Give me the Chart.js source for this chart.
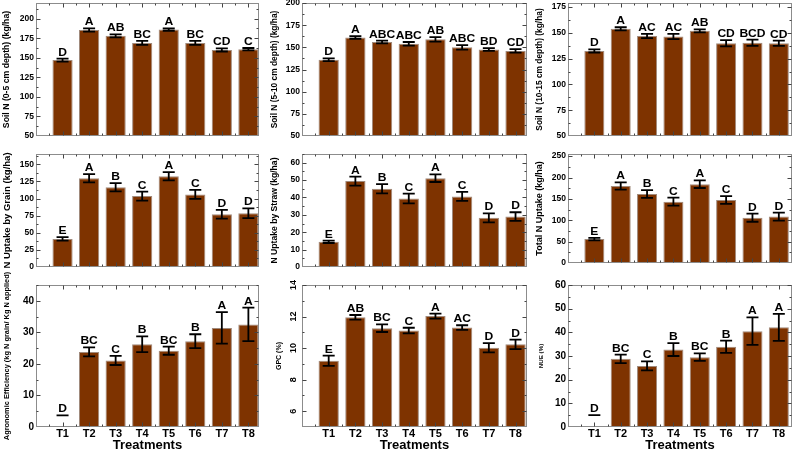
<!DOCTYPE html>
<html>
<head>
<meta charset="utf-8">
<script src="https://cdn.jsdelivr.net/npm/chart.js@4.4.1/dist/chart.umd.min.js"></script>
<style>
  html, body { margin: 0; padding: 0; background: #fff; overflow: hidden; }
  #wrap { position: relative; width: 793px; height: 449px; }
  #wrap canvas { position: absolute; left: 0; top: 0; }
</style>
</head>
<body>
<div id="wrap"></div>
<script>
const treatments = ['T1', 'T2', 'T3', 'T4', 'T5', 'T6', 'T7', 'T8'];

// soil N, three depths (kg/ha)
const soil05Mean = [147, 185.5, 178, 169, 186, 169, 160, 161];
const soil05Err = [2, 2, 2, 2.5, 1.5, 2.5, 2, 1.5];
const soil05Letters = ['D', 'A', 'AB', 'BC', 'A', 'BC', 'CD', 'C'];
const soil05Ticks = [50, 75, 100, 125, 150, 175, 200];

const soil510Mean = [136, 161, 156, 154, 159, 150, 147.5, 146];
const soil510Err = [1.5, 1.5, 1.5, 2, 2.5, 2.5, 1.5, 2];
const soil510Letters = ['D', 'A', 'ABC', 'ABC', 'AB', 'ABC', 'BD', 'CD'];
const soil510Ticks = [50, 75, 100, 125, 150, 175, 200];

const soil1015Mean = [132.5, 154, 147, 146.5, 152, 140, 140.5, 140];
const soil1015Err = [1.5, 1.5, 2, 2.5, 1.5, 3, 3, 2.5];
const soil1015Letters = ['D', 'A', 'AC', 'AC', 'AB', 'CD', 'BCD', 'CD'];
const soil1015Ticks = [50, 75, 100, 125, 150, 175];

// N uptake (kg/ha)
const grainMean = [41, 129.5, 116.5, 103.5, 132.5, 106, 77, 78.5];
const grainErr = [2.5, 6, 6, 6.5, 6, 6.5, 6.5, 7];
const grainLetters = ['E', 'A', 'B', 'C', 'A', 'C', 'D', 'D'];
const grainTicks = [0, 25, 50, 75, 100, 125, 150];

const strawMean = [14.5, 49.4, 45, 39.4, 51.1, 40.6, 28.3, 29];
const strawErr = [0.7, 2.6, 2.7, 2.8, 2.2, 2.6, 2.6, 2.5];
const strawLetters = ['E', 'A', 'B', 'C', 'A', 'C', 'D', 'D'];
const strawTicks = [0, 10, 20, 30, 40, 50, 60];

const totalMean = [56, 180, 161.5, 143.5, 184.5, 147.5, 106, 108.5];
const totalErr = [3, 8.5, 9, 9.5, 9, 9, 9.5, 9.5];
const totalLetters = ['E', 'A', 'B', 'C', 'A', 'C', 'D', 'D'];
const totalTicks = [0, 50, 100, 150, 200, 250];

// agronomic efficiency, GPC, NUE
const aeMean = [0, 23.8, 21.1, 26.2, 24.2, 27.2, 31.4, 32.5];
const aeErr = [0, 1.45, 1.45, 2.5, 1.3, 2.2, 5, 5.3];
const aeErrMid = [3.7, 23.8, 21.1, 26.2, 24.2, 27.2, 31.4, 32.5];
const aeLetters = ['D', 'BC', 'C', 'B', 'BC', 'B', 'A', 'A'];
const aeTicks = [0, 10, 20, 30, 40];

const gpcMean = [9.2, 11.95, 11.26, 11.11, 12.03, 11.3, 10.02, 10.24];
const gpcErr = [0.32, 0.15, 0.24, 0.18, 0.16, 0.15, 0.29, 0.3];
const gpcLetters = ['E', 'AB', 'BC', 'C', 'A', 'AC', 'D', 'D'];
const gpcTicks = [6, 8, 10, 12, 14];

const nueMean = [0, 28.8, 25.8, 32.7, 29.5, 33.9, 40.5, 42.1];
const nueErr = [0, 1.8, 1.9, 2.7, 1.6, 2.6, 5.8, 5.7];
const nueErrMid = [5, 28.8, 25.8, 32.7, 29.5, 33.9, 40.5, 42.1];
const nueLetters = ['D', 'BC', 'C', 'B', 'BC', 'B', 'A', 'A'];
const nueTicks = [0, 10, 20, 30, 40, 50, 60];

const barColor = '#7e3300';
const barEdge = '#a08a7c';

// page layout of the 3x3 grid
const cols = [
  { plotLeft: 36, plotRight: 259, xMax: 8.4 },
  { plotLeft: 302, plotRight: 527, xMax: 8.43 },
  { plotLeft: 568, plotRight: 792, xMax: 8.5 }
];
const rows = [
  { top: 3, bottom: 136 },
  { top: 154, bottom: 267 },
  { top: 285, bottom: 427 }
];

const panels = [
  { col: 0, row: 0, mean: soil05Mean, err: soil05Err, letters: soil05Letters, ticks: soil05Ticks, min: 50, max: 220,
    title: 'Soil N (0-5 cm depth) (kg/ha)', titleSize: 8.7, titleX: 7, tickSize: 8.5 },
  { col: 1, row: 0, mean: soil510Mean, err: soil510Err, letters: soil510Letters, ticks: soil510Ticks, min: 50, max: 200,
    title: 'Soil N (5-10 cm depth) (kg/ha)', titleSize: 8.4, titleX: 275, tickSize: 8.5 },
  { col: 2, row: 0, mean: soil1015Mean, err: soil1015Err, letters: soil1015Letters, ticks: soil1015Ticks, min: 50, max: 179,
    title: 'Soil N (10-15 cm depth) (kg/ha)', titleSize: 8.4, titleX: 540, tickSize: 8.5 },
  { col: 0, row: 1, mean: grainMean, err: grainErr, letters: grainLetters, ticks: grainTicks, min: 0, max: 165,
    title: 'N Uptake by Grain (kg/ha)', titleSize: 9.5, titleX: 7, tickSize: 8.5 },
  { col: 1, row: 1, mean: strawMean, err: strawErr, letters: strawLetters, ticks: strawTicks, min: 0, max: 65,
    title: 'N Uptake by Straw (kg/ha)', titleSize: 8.6, titleX: 275, tickSize: 8.5 },
  { col: 2, row: 1, mean: totalMean, err: totalErr, letters: totalLetters, ticks: totalTicks, min: 0, max: 255,
    title: 'Total N Uptake (kg/ha)', titleSize: 9, titleX: 540, tickSize: 8.5, plotBottom: 263 },
  { col: 0, row: 2, mean: aeMean, err: aeErr, errMid: aeErrMid, letters: aeLetters, ticks: aeTicks, min: 0, max: 45,
    title: 'Agronomic Efficiency (kg N grain/ Kg N applied)', titleSize: 7.4, titleX: 7, tickSize: 10 },
  { col: 1, row: 2, mean: gpcMean, err: gpcErr, letters: gpcLetters, ticks: gpcTicks, min: 5, max: 14,
    title: 'GPC (%)', titleSize: 7, titleX: 279, tickSize: 9, rotTicks: true },
  { col: 2, row: 2, mean: nueMean, err: nueErr, errMid: nueErrMid, letters: nueLetters, ticks: nueTicks, min: 0, max: 60,
    title: 'NUE (%)', titleSize: 6.2, titleX: 541, tickSize: 10 }
];

// frame, inward ticks, error bars and letters
const panelDecor = {
  id: 'panelDecor',
  afterDatasetsDraw(chart, args, opts) {
    const { ctx, chartArea: a, scales: { x, y } } = chart;
    ctx.save();

    // error bars
    ctx.strokeStyle = '#000';
    ctx.lineWidth = 1.8;
    ctx.fillStyle = '#000';
    ctx.font = 'bold 10.5px "Liberation Sans", Arial, sans-serif';
    ctx.textAlign = 'center';
    ctx.textBaseline = 'alphabetic';
    opts.mean.forEach((m, i) => {
      const mid = opts.errMid ? opts.errMid[i] : m;
      const px = x.getPixelForValue(i + 1);
      const yHi = y.getPixelForValue(mid + opts.err[i]);
      const yLo = y.getPixelForValue(mid - opts.err[i]);
      ctx.beginPath();
      ctx.moveTo(px, yHi); ctx.lineTo(px, yLo);
      ctx.moveTo(px - 6, yHi); ctx.lineTo(px + 6, yHi);
      ctx.moveTo(px - 6, yLo); ctx.lineTo(px + 6, yLo);
      ctx.stroke();
      // letters look slightly wide in the original figure
      ctx.save();
      ctx.translate(px, yHi - 3);
      ctx.scale(1.15, 1);
      ctx.fillText(opts.letters[i], 0, 0);
      ctx.restore();
    });

    // frame
    const L = Math.round(a.left) + 0.5, R = Math.round(a.right) - 0.5;
    const T = Math.round(a.top) + 0.5, B = Math.round(a.bottom) - 0.5;
    ctx.strokeStyle = '#8c8c8c';
    ctx.lineWidth = 1;
    ctx.strokeRect(L, T, R - L, B - T);

    // inward ticks
    ctx.strokeStyle = '#444';
    ctx.beginPath();
    for (let v = 0.5; v < x.max; v += 0.5) {
      const px = Math.round(x.getPixelForValue(v)) + 0.5;
      const len = Number.isInteger(v) ? 4 : 2;
      ctx.moveTo(px, B); ctx.lineTo(px, B - len);
      ctx.moveTo(px, T); ctx.lineTo(px, T + len);
    }
    const step = opts.ticks[1] - opts.ticks[0];
    let start = opts.ticks[0];
    while (start - step / 2 >= y.min) start -= step / 2;
    for (let v = start; v <= y.max + 1e-9; v += step / 2) {
      const py = Math.round(y.getPixelForValue(v)) + 0.5;
      if (py < T || py > B) continue;
      const major = opts.ticks.some(t => Math.abs(t - v) < 1e-6);
      const len = major ? 4 : 2;
      ctx.moveTo(L, py); ctx.lineTo(L + len, py);
      ctx.moveTo(R, py); ctx.lineTo(R - len, py);
    }
    ctx.stroke();

    // rotated tick labels (GPC panel)
    if (opts.rotTicks) {
      ctx.fillStyle = '#000';
      ctx.font = 'bold ' + opts.tickSize + 'px "Liberation Sans", Arial, sans-serif';
      ctx.textAlign = 'center';
      ctx.textBaseline = 'middle';
      opts.ticks.forEach(v => {
        ctx.save();
        ctx.translate(a.left - 8, y.getPixelForValue(v));
        ctx.rotate(-Math.PI / 2);
        ctx.fillText(String(v), 0, 0);
        ctx.restore();
      });
    }
    ctx.restore();
  }
};

Chart.defaults.font.family = '"Liberation Sans", Arial, sans-serif';
Chart.defaults.color = '#000';

const wrap = document.getElementById('wrap');

panels.forEach(p => {
  const col = cols[p.col];
  const row = rows[p.row];
  const plotBottom = p.plotBottom || row.bottom;
  const isBottom = p.row === 2;
  const xH = isBottom ? 22 : 0;
  const padLeft = p.titleX - p.titleSize * 1.2 / 2;
  const yW = col.plotLeft - padLeft;

  const canvas = document.createElement('canvas');
  canvas.width = 793;
  canvas.height = 449;
  wrap.appendChild(canvas);

  new Chart(canvas, {
    type: 'bar',
    data: {
      datasets: [{
        data: p.mean.map((v, i) => ({ x: i + 1, y: v })),
        backgroundColor: barColor,
        borderColor: barEdge,
        borderWidth: 1,
        borderSkipped: 'start',
        categoryPercentage: 1,
        barPercentage: 0.76
      }]
    },
    options: {
      responsive: false,
      animation: false,
      devicePixelRatio: 1,
      events: [],
      layout: {
        padding: { left: padLeft, top: row.top, right: 793 - col.plotRight, bottom: 449 - plotBottom - xH }
      },
      plugins: {
        legend: { display: false },
        tooltip: { enabled: false },
        panelDecor: {
          mean: p.mean, err: p.err, errMid: p.errMid, letters: p.letters,
          ticks: p.ticks, rotTicks: p.rotTicks, tickSize: p.tickSize
        }
      },
      scales: {
        x: {
          type: 'linear',
          min: 0,
          max: col.xMax,
          offset: false,
          grid: { display: false, drawTicks: false },
          border: { display: false },
          afterBuildTicks: s => { s.ticks = treatments.map((t, i) => ({ value: i + 1 })); },
          afterFit: s => { s.height = xH; s.paddingLeft = 0; s.paddingRight = 0; },
          ticks: {
            display: isBottom,
            padding: 0,
            autoSkip: false,
            maxRotation: 0,
            font: { size: 11, weight: 'bold' },
            callback: v => treatments[v - 1] || ''
          },
          title: {
            display: isBottom,
            text: 'Treatments',
            font: { size: 13, weight: 'bold', lineHeight: 1 },
            padding: { top: 0, bottom: -3 }
          }
        },
        y: {
          min: p.min,
          max: p.max,
          grid: { display: false, drawTicks: false },
          border: { display: false },
          afterBuildTicks: s => { s.ticks = p.ticks.map(v => ({ value: v })); },
          afterFit: s => { s.width = yW; s.paddingTop = 0; s.paddingBottom = 0; },
          ticks: {
            display: !p.rotTicks,
            padding: 2,
            autoSkip: false,
            font: { size: p.tickSize, weight: 'bold' }
          },
          title: {
            display: true,
            text: p.title,
            font: { size: p.titleSize, weight: 'bold' },
            padding: 0
          }
        }
      }
    },
    plugins: [panelDecor]
  });
});
</script>
</body>
</html>
